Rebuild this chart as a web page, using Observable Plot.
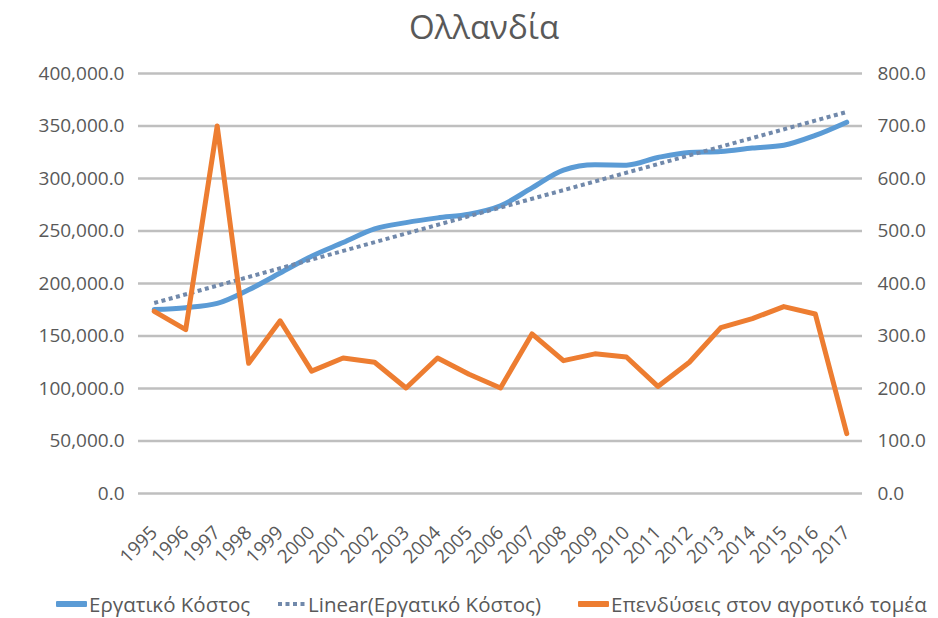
<!DOCTYPE html>
<html><head><meta charset="utf-8">
<script src="https://cdn.jsdelivr.net/npm/d3@7"></script>
<script src="https://cdn.jsdelivr.net/npm/@observablehq/plot@0.6"></script>
<style>
body{margin:0;background:#fff;font-family:"Open Sans",sans-serif;color:#595959;width:938px;height:618px;overflow:hidden;position:relative;}
#title{height:50px;line-height:54px;text-align:center;font-size:33px;padding-left:30px;box-sizing:border-box;}
#chart{height:530px;}
#legend{position:absolute;left:0;top:590px;width:938px;height:28px;font-size:20.5px;}
.item{position:absolute;top:0;display:flex;align-items:center;gap:2px;white-space:nowrap;}
</style></head>
<body>
<div id="title">Ολλανδία</div>
<div id="chart"></div>
<div id="legend"></div>
<script>
const years = [1995,1996,1997,1998,1999,2000,2001,2002,2003,2004,2005,2006,2007,2008,2009,2010,2011,2012,2013,2014,2015,2016,2017];
const laborCost = [175200,177000,181000,194000,210000,226000,239000,252000,258000,262500,266000,274000,291000,308000,313000,312700,320000,324800,325700,329000,331700,341000,353600];
const investment = [347,312,700,248,329,233,258,250,201,258,227,201,304,253,266,260,204,250,316,333,356,342,114];
const leftTicks = [0,50000,100000,150000,200000,250000,300000,350000,400000];
const seriesNames = ["Εργατικό Κόστος","Linear(Εργατικό Κόστος)","Επενδύσεις στον αγροτικό τομέα"];
const colors = {labor:"#5B9BD5", trend:"#7189AB", inv:"#ED7D31"};
const ratio = 400000/800;

const laborData = years.map((y,i)=>({year:y, value:laborCost[i]}));
const invData = years.map((y,i)=>({year:y, value:investment[i]*ratio}));
const fmt = d3.format(",.1f");

const plot = Plot.plot({
  width:938, height:530,
  marginLeft:138, marginRight:76, marginTop:23, marginBottom:87,
  style:{fontFamily:"'Open Sans',sans-serif", color:"#595959", background:"white"},
  x:{type:"linear", domain:[1994.5,2017.5]},
  y:{domain:[0,400000]},
  marks:[
    Plot.gridY(leftTicks.slice(1), {stroke:"#bfbfbf", strokeOpacity:1, strokeWidth:2.5}),
    Plot.ruleY([0], {stroke:"#bfbfbf", strokeWidth:2.5}),
    Plot.axisY(leftTicks, {anchor:"left", tickFormat:fmt, tickSize:0, tickPadding:14, fontSize:19, label:null}),
    Plot.axisY(leftTicks, {anchor:"right", tickFormat:d=>fmt(d/ratio), tickSize:0, tickPadding:15, fontSize:19, label:null}),
    Plot.axisX(years, {tickFormat:d=>String(d), tickRotate:-45, tickSize:0, tickPadding:36, fontSize:19, label:null}),
    Plot.line(laborData, {x:"year", y:"value", stroke:colors.labor, strokeWidth:5, curve:"monotone-x"}),
    Plot.linearRegressionY(laborData, {x:"year", y:"value", stroke:colors.trend, strokeWidth:4, ci:0, strokeDasharray:"4,3.5", strokeLinecap:"butt"}),
    Plot.line(invData, {x:"year", y:"value", stroke:colors.inv, strokeWidth:5, strokeLinejoin:"round"})
  ]
});
document.getElementById("chart").appendChild(plot);

const legend = document.getElementById("legend");
const sw = [
  `<svg width="31" height="8"><rect x="0" y="1" width="31" height="6" rx="1" fill="${colors.labor}"/></svg>`,
  `<svg width="28" height="8"><line x1="0" y1="4" x2="28" y2="4" stroke="${colors.trend}" stroke-width="4" stroke-dasharray="4,3.5"/></svg>`,
  `<svg width="31" height="8"><rect x="0" y="1" width="31" height="6" rx="1" fill="${colors.inv}"/></svg>`
];
const lefts = [56, 278, 578];
seriesNames.forEach((n,i)=>{
  const d=document.createElement("div"); d.className="item";
  d.style.left = lefts[i]+"px";
  d.innerHTML = sw[i] + `<span>${n}</span>`;
  legend.appendChild(d);
});
</script>
</body></html>
